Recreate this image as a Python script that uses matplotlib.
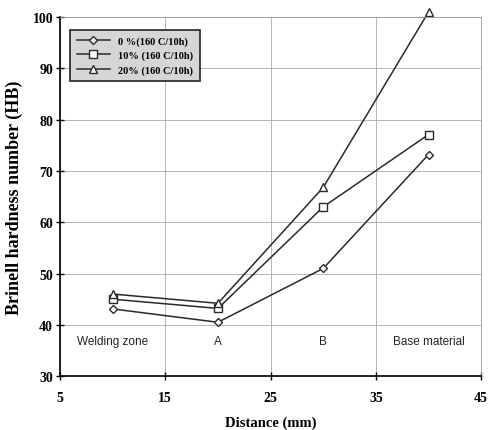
import matplotlib
matplotlib.use('Agg')
import matplotlib.pyplot as plt

distance = [10, 20, 30, 40]
hb_0 = [43.1, 40.5, 51, 73.2]
hb_10 = [45.0, 43.2, 63, 77.1]
hb_20 = [46.0, 44.2, 66.8, 101]
labels = ['0 %(160 C/10h)', '10% (160 C/10h)', '20% (160 C/10h)']
zones = ['Welding zone', 'A', 'B', 'Base material']

serif = 'Liberation Serif'

fig = plt.figure(figsize=(4.88, 4.31), dpi=100)
ax = fig.add_axes([0.123, 0.125, 0.863, 0.833])

line_kw = dict(color='#2a2a2a', linewidth=1.1, markerfacecolor='white',
               markeredgecolor='#2a2a2a', clip_on=False)
ax.plot(distance, hb_0, marker='D', markersize=4, label=labels[0], **line_kw)
ax.plot(distance, hb_10, marker='s', markersize=6, label=labels[1], **line_kw)
ax.plot(distance, hb_20, marker='^', markersize=6, label=labels[2], **line_kw)

for x, name in zip(distance, zones):
    ax.text(x, 36.9, name, ha='center', va='center', fontsize=8.5,
            family='Liberation Sans', color='#222222')

ax.set_xlim(5, 45)
ax.set_ylim(30, 100)
ax.set_xticks([5, 15, 25, 35, 45])
ax.set_yticks(range(30, 101, 10))
ax.grid(True, color='#aaaaaa', linewidth=0.6)
ax.set_axisbelow(True)
for side in ['top', 'right']:
    ax.spines[side].set_linewidth(0.6)
    ax.spines[side].set_color('#999999')
for side in ['left', 'bottom']:
    ax.spines[side].set_linewidth(1.2)
ax.tick_params(direction='inout', length=6, width=1)
ax.tick_params(axis='y', pad=2)
ax.tick_params(axis='x', pad=8)
for lbl in ax.get_xticklabels() + ax.get_yticklabels():
    lbl.set_fontfamily(serif)
    lbl.set_fontweight('bold')
    lbl.set_fontsize(10)

ax.set_xlabel('Distance (mm)', family=serif, fontweight='bold', fontsize=10.5, labelpad=8)
ax.set_ylabel('Brinell hardness number (HB)', family=serif, fontweight='bold', fontsize=13, labelpad=7)

leg = ax.legend(loc='upper left', bbox_to_anchor=(0.012, 0.978), frameon=True,
                fancybox=False, edgecolor='#222222', facecolor='#d6d6d6',
                framealpha=1, prop={'family': serif, 'weight': 'bold', 'size': 7.5},
                handlelength=3.2, borderpad=0.6, labelspacing=0.45)
leg.get_frame().set_linewidth(1.2)

fig.savefig('out.png', dpi=100)
plt.close(fig)
